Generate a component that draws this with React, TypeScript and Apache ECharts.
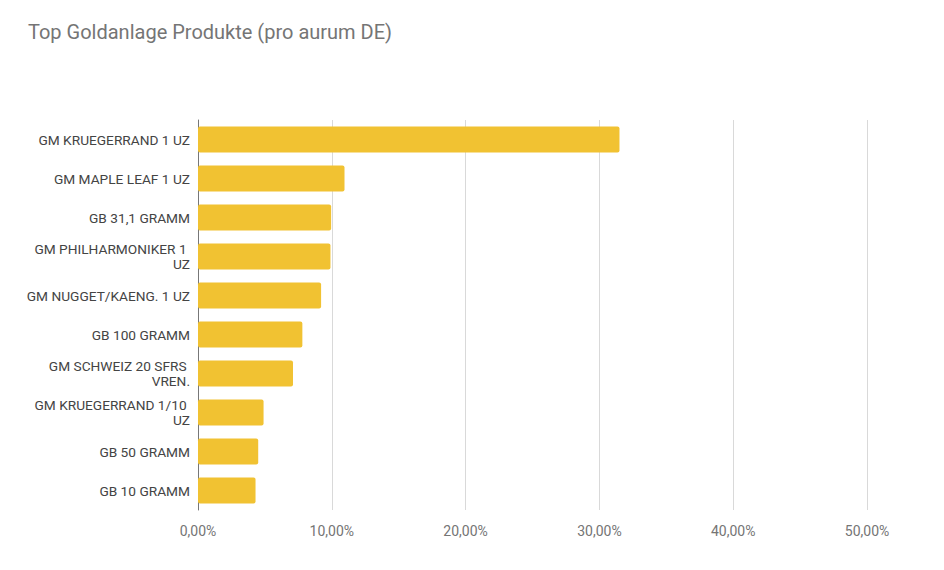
import React, { useEffect, useRef } from "react";
import * as echarts from "echarts";

const TITLE = "Top Goldanlage Produkte (pro aurum DE)";
const categories = [
  "GM KRUEGERRAND 1 UZ",
  "GM MAPLE LEAF 1 UZ",
  "GB 31,1 GRAMM",
  "GM PHILHARMONIKER 1 UZ",
  "GM NUGGET/KAENG. 1 UZ",
  "GB 100 GRAMM",
  "GM SCHWEIZ 20 SFRS VREN.",
  "GM KRUEGERRAND 1/10 UZ",
  "GB 50 GRAMM",
  "GB 10 GRAMM",
];
const shares = [31.5, 10.95, 9.95, 9.9, 9.2, 7.8, 7.1, 4.9, 4.5, 4.3];
const axisMin = 0;
const axisMax = 50;
const axisStep = 10;

const fmtPct = (v: number) => v.toFixed(2).replace(".", ",") + "%";

export default function App() {
  const ref = useRef<HTMLDivElement>(null);
  useEffect(() => {
    if (!ref.current) return;
    const chart = echarts.init(ref.current, null, { renderer: "svg" });
    chart.setOption({
      animation: false,
      backgroundColor: "#ffffff",
      title: {
        text: TITLE,
        left: 28,
        top: 22,
        padding: 0,
        textStyle: {
          fontFamily: "Roboto",
          fontSize: 20,
          fontWeight: "normal",
          color: "#757575",
        },
      },
      grid: { left: 198, right: 77, top: 120, bottom: 60, containLabel: false },
      xAxis: {
        type: "value",
        min: axisMin,
        max: axisMax,
        interval: axisStep,
        axisLine: { show: false },
        axisTick: { show: false },
        splitLine: { lineStyle: { color: "#d9d9d9", width: 1 } },
        axisLabel: {
          formatter: (v: number) => fmtPct(v),
          color: "#757575",
          fontFamily: "Roboto",
          fontSize: 14,
          margin: 14,
        },
      },
      yAxis: {
        type: "category",
        data: categories,
        inverse: true,
        axisTick: { show: false },
        axisLine: { show: true, lineStyle: { color: "#777777", width: 1 } },
        axisLabel: {
          color: "#444444",
          fontFamily: "Roboto",
          fontSize: 13.7,
          margin: 8,
          width: 170,
          overflow: "break",
          lineHeight: 15,
          align: "right",
        },
      },
      series: [
        {
          type: "bar",
          data: shares,
          barWidth: 26,
          itemStyle: { color: "#f1c232", borderRadius: 2 },
        },
      ],
    });
    return () => chart.dispose();
  }, []);
  return (
    <div
      ref={ref}
      style={{ position: "fixed", left: 0, top: 0, width: 944, height: 570 }}
    />
  );
}
